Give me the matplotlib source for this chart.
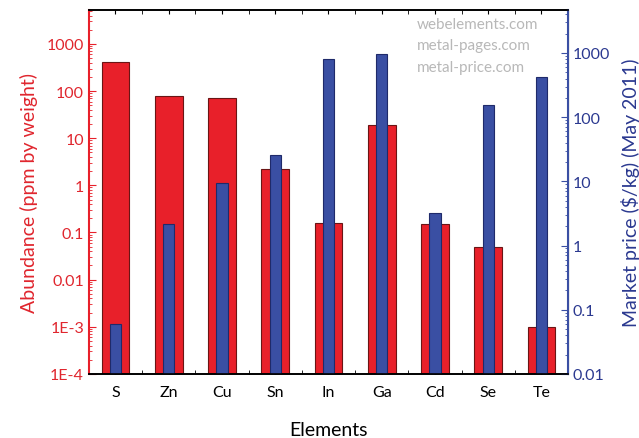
import matplotlib.pyplot as plt
from matplotlib.ticker import FixedLocator, LogLocator, NullFormatter, MultipleLocator

plt.rcParams['font.family'] = ['Lato', 'DejaVu Sans']

elements = ["S", "Zn", "Cu", "Sn", "In", "Ga", "Cd", "Se", "Te"]
abundance_ppm = [420, 80, 70, 2.2, 0.16, 19, 0.15, 0.05, 0.001]
price_usd_kg = [0.06, 2.2, 9.5, 26, 800, 960, 3.2, 155, 430]

left_ticks = [1e-4, 1e-3, 0.01, 0.1, 1, 10, 100, 1000]
left_labels = ["1E-4", "1E-3", "0.01", "0.1", "1", "10", "100", "1000"]
right_ticks = [0.01, 0.1, 1, 10, 100, 1000]
right_labels = ["0.01", "0.1", "1", "10", "100", "1000"]
sources = ["webelements.com", "metal-pages.com", "metal-price.com"]

red = "#e8202a"
red_text = "#e0262e"
blue = "#3a4fa3"
blue_text = "#2b3990"

fig = plt.figure(figsize=(6.39, 4.39), dpi=100)
ax = fig.add_axes([0.139, 0.146, 0.750, 0.829])
ax2 = ax.twinx()

x = range(len(elements))
ax.bar(x, [v - 1e-4 for v in abundance_ppm], bottom=1e-4, width=0.52,
       color=red, edgecolor="#6a1515", linewidth=0.8)
ax2.bar(x, [v - 0.01 for v in price_usd_kg], bottom=0.01, width=0.21,
        color=blue, edgecolor="#1f2a6a", linewidth=0.8)

ax.set_yscale("log")
ax2.set_yscale("log")
ax.set_ylim(1e-4, 10 ** 3.72)
ax2.set_ylim(0.01, 10 ** 3.67)
ax.set_xlim(-0.5, 8.5)

# left axis: abundance (red)
ax.yaxis.set_major_locator(FixedLocator(left_ticks))
ax.set_yticklabels(left_labels)
ax.yaxis.set_minor_locator(LogLocator(base=10, subs=range(2, 10), numticks=20))
ax.yaxis.set_minor_formatter(NullFormatter())
ax.tick_params(axis="y", which="both", direction="in", colors=red, labelcolor=red_text,
               labelsize=11.5)
ax.tick_params(axis="y", which="major", length=5)
ax.tick_params(axis="y", which="minor", length=2.5)
ax.set_ylabel("Abundance (ppm by weight)", color=red_text, fontsize=14, labelpad=6)

# right axis: market price (blue)
ax2.yaxis.set_major_locator(FixedLocator(right_ticks))
ax2.set_yticklabels(right_labels)
ax2.yaxis.set_minor_locator(LogLocator(base=10, subs=range(2, 10), numticks=20))
ax2.yaxis.set_minor_formatter(NullFormatter())
ax2.tick_params(axis="y", which="both", direction="in", colors=blue, labelcolor=blue_text,
                labelsize=11.5)
ax2.tick_params(axis="y", which="major", length=5)
ax2.tick_params(axis="y", which="minor", length=2.5)
ax2.set_ylabel("Market price ($/kg) (May 2011)", color=blue_text, fontsize=14, labelpad=8)

# x axis
ax.set_xticks(list(x))
ax.set_xticklabels(elements)
ax.xaxis.set_minor_locator(MultipleLocator(0.5))
ax.tick_params(axis="x", which="both", direction="in", top=True, length=3,
               labelsize=11.5, pad=8)
ax.set_xlabel("Elements", fontsize=14, labelpad=16)

ax.spines["left"].set_color(red)
ax.spines["left"].set_linewidth(1.5)
ax2.spines["left"].set_visible(False)
ax2.spines["right"].set_color(blue)
ax2.spines["right"].set_linewidth(1.5)
for a in (ax, ax2):
    a.spines["top"].set_linewidth(1.2)
    a.spines["bottom"].set_linewidth(1.2)

# data sources, light grey in the upper right
for i, s in enumerate(sources):
    ax2.text(0.685, 0.962 - i * 0.059, s, transform=ax.transAxes, ha="left", va="center",
             color="#b8b8b8", fontsize=11)

fig.savefig("out.png", dpi=100)
